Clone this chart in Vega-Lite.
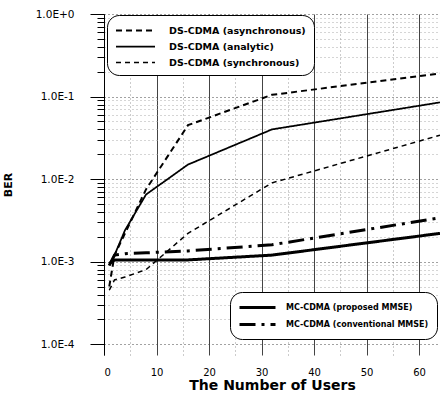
{
  "$schema": "https://vega.github.io/schema/vega-lite/v6.json",
  "width": 336,
  "height": 341,
  "autosize": {"type": "none"},
  "padding": {"left": 104, "top": 14, "right": 0, "bottom": 43},
  "background": "white",
  "config": {"view": {"stroke": null}, "font": "DejaVu Sans"},
  "data": {"values": [
    {"series": "DS-CDMA (asynchronous)", "users": 1, "ber": 0.0005},
    {"series": "DS-CDMA (asynchronous)", "users": 2, "ber": 0.0012},
    {"series": "DS-CDMA (asynchronous)", "users": 4, "ber": 0.0022},
    {"series": "DS-CDMA (asynchronous)", "users": 8, "ber": 0.0075},
    {"series": "DS-CDMA (asynchronous)", "users": 16, "ber": 0.045},
    {"series": "DS-CDMA (asynchronous)", "users": 32, "ber": 0.105},
    {"series": "DS-CDMA (asynchronous)", "users": 64, "ber": 0.19},
    {"series": "DS-CDMA (analytic)", "users": 1, "ber": 0.0009},
    {"series": "DS-CDMA (analytic)", "users": 2, "ber": 0.0012},
    {"series": "DS-CDMA (analytic)", "users": 4, "ber": 0.0024},
    {"series": "DS-CDMA (analytic)", "users": 8, "ber": 0.0065},
    {"series": "DS-CDMA (analytic)", "users": 16, "ber": 0.015},
    {"series": "DS-CDMA (analytic)", "users": 32, "ber": 0.04},
    {"series": "DS-CDMA (analytic)", "users": 64, "ber": 0.085},
    {"series": "DS-CDMA (synchronous)", "users": 1, "ber": 0.00045},
    {"series": "DS-CDMA (synchronous)", "users": 2, "ber": 0.0006},
    {"series": "DS-CDMA (synchronous)", "users": 4, "ber": 0.00065},
    {"series": "DS-CDMA (synchronous)", "users": 8, "ber": 0.0008},
    {"series": "DS-CDMA (synchronous)", "users": 16, "ber": 0.0022},
    {"series": "DS-CDMA (synchronous)", "users": 32, "ber": 0.009},
    {"series": "DS-CDMA (synchronous)", "users": 64, "ber": 0.034},
    {"series": "MC-CDMA (proposed MMSE)", "users": 1, "ber": 0.00095},
    {"series": "MC-CDMA (proposed MMSE)", "users": 2, "ber": 0.00105},
    {"series": "MC-CDMA (proposed MMSE)", "users": 4, "ber": 0.00105},
    {"series": "MC-CDMA (proposed MMSE)", "users": 8, "ber": 0.00105},
    {"series": "MC-CDMA (proposed MMSE)", "users": 16, "ber": 0.00105},
    {"series": "MC-CDMA (proposed MMSE)", "users": 32, "ber": 0.0012},
    {"series": "MC-CDMA (proposed MMSE)", "users": 64, "ber": 0.0022},
    {"series": "MC-CDMA (conventional MMSE)", "users": 1, "ber": 0.0009},
    {"series": "MC-CDMA (conventional MMSE)", "users": 2, "ber": 0.0012},
    {"series": "MC-CDMA (conventional MMSE)", "users": 4, "ber": 0.00125},
    {"series": "MC-CDMA (conventional MMSE)", "users": 8, "ber": 0.00128},
    {"series": "MC-CDMA (conventional MMSE)", "users": 16, "ber": 0.00135},
    {"series": "MC-CDMA (conventional MMSE)", "users": 32, "ber": 0.0016},
    {"series": "MC-CDMA (conventional MMSE)", "users": 64, "ber": 0.0034}
  ]},
  "encoding": {
    "x": {
      "field": "users", "type": "quantitative",
      "scale": {"domain": [0, 64], "nice": false, "zero": false},
      "axis": {
        "values": [0, 5, 10, 15, 20, 25, 30, 35, 40, 45, 50, 55, 60],
        "labelExpr": "datum.value % 10 === 0 ? datum.label : ''",
        "grid": true,
        "gridColor": {"condition": {"test": "datum.value % 10 === 0", "value": "#444"}, "value": "#999"},
        "gridDash": {"condition": {"test": "datum.value % 10 === 0", "value": []}, "value": [1, 3]},
        "domain": false, "ticks": false,
        "labelFontSize": 10, "labelColor": "black", "labelPadding": 12,
        "title": "The Number of Users", "titleFontSize": 14, "titleFontWeight": "bold",
        "titleColor": "black", "titlePadding": 1
      }
    },
    "y": {
      "field": "ber", "type": "quantitative",
      "scale": {"type": "log", "domain": [0.000074, 1], "nice": false},
      "axis": {
        "values": [0.0001, 0.0002, 0.0003, 0.0004, 0.0005, 0.0006, 0.0007, 0.0008, 0.0009,
                   0.001, 0.002, 0.003, 0.004, 0.005, 0.006, 0.007, 0.008, 0.009,
                   0.01, 0.02, 0.03, 0.04, 0.05, 0.06, 0.07, 0.08, 0.09,
                   0.1, 0.2, 0.3, 0.4, 0.5, 0.6, 0.7, 0.8, 0.9, 1],
        "labelExpr": "abs(log(datum.value)/LN10 - round(log(datum.value)/LN10)) < 0.001 ? ('1.0E' + (datum.value >= 1 ? '+0' : round(log(datum.value)/LN10))) : ''",
        "grid": true,
        "gridColor": {"condition": {"test": "abs(log(datum.value)/LN10 - round(log(datum.value)/LN10)) < 0.001", "value": "#444"}, "value": "#aaa"},
        "gridDash": [1, 3],
        "domain": true, "domainColor": "black",
        "ticks": true, "tickColor": "black",
        "tickSize": {"condition": {"test": "abs(log(datum.value)/LN10 - round(log(datum.value)/LN10)) < 0.001", "value": 14}, "value": 7},
        "labelFontSize": 10.5, "labelColor": "black", "labelPadding": 16,
        "title": "BER", "titleFontSize": 11, "titleFontWeight": "bold", "titleColor": "black",
        "titlePadding": 22
      }
    },
    "color": {"value": "black"}
  },
  "layer": [
    {
      "transform": [{"filter": "indexof(datum.series, 'DS') === 0"}],
      "mark": {"type": "line", "color": "black"},
      "encoding": {
        "strokeDash": {
          "field": "series", "type": "nominal",
          "scale": {"domain": ["DS-CDMA (asynchronous)", "DS-CDMA (analytic)", "DS-CDMA (synchronous)"], "range": [[6, 4], [1, 0], [5, 4]]},
          "legend": {
            "orient": "none", "legendX": 3, "legendY": 1, "title": null,
            "symbolType": "M-1,0H5", "symbolSize": 169, "symbolStrokeColor": "black",
            "labelFontSize": 9.5, "labelFontWeight": "bold", "labelColor": "black", "labelOffset": 39,
            "strokeColor": "black", "cornerRadius": 12, "fillColor": "white", "padding": 8, "rowPadding": 4
          }
        },
        "strokeWidth": {
          "field": "series", "type": "nominal",
          "scale": {"domain": ["DS-CDMA (asynchronous)", "DS-CDMA (analytic)", "DS-CDMA (synchronous)"], "range": [2, 1.5, 1]},
          "legend": {
            "orient": "none", "legendX": 3, "legendY": 1, "title": null,
            "symbolType": "M-1,0H5", "symbolSize": 169, "symbolStrokeColor": "black",
            "labelFontSize": 9.5, "labelFontWeight": "bold", "labelColor": "black", "labelOffset": 39,
            "strokeColor": "black", "cornerRadius": 12, "fillColor": "white", "padding": 8, "rowPadding": 4
          }
        }
      }
    },
    {
      "transform": [{"filter": "indexof(datum.series, 'MC') === 0"}],
      "mark": {"type": "line", "color": "black"},
      "encoding": {
        "strokeDash": {
          "field": "series", "type": "nominal",
          "scale": {"domain": ["MC-CDMA (proposed MMSE)", "MC-CDMA (conventional MMSE)"], "range": [[1, 0], [16, 6, 3, 6]]},
          "legend": {
            "orient": "none", "legendX": 126, "legendY": 278, "title": null,
            "symbolType": "M-1,0H5", "symbolSize": 144, "symbolStrokeColor": "black",
            "labelFontSize": 8, "labelFontWeight": "bold", "labelColor": "black", "labelOffset": 33,
            "strokeColor": "black", "cornerRadius": 12, "fillColor": "white", "padding": 8, "rowPadding": 3
          }
        },
        "strokeWidth": {
          "field": "series", "type": "nominal",
          "scale": {"domain": ["MC-CDMA (proposed MMSE)", "MC-CDMA (conventional MMSE)"], "range": [3, 3]},
          "legend": {
            "orient": "none", "legendX": 126, "legendY": 278, "title": null,
            "symbolType": "M-1,0H5", "symbolSize": 144, "symbolStrokeColor": "black",
            "labelFontSize": 8, "labelFontWeight": "bold", "labelColor": "black", "labelOffset": 33,
            "strokeColor": "black", "cornerRadius": 12, "fillColor": "white", "padding": 8, "rowPadding": 3
          }
        }
      }
    }
  ],
  "resolve": {
    "scale": {"strokeDash": "independent", "strokeWidth": "independent"},
    "legend": {"strokeDash": "independent", "strokeWidth": "independent"}
  }
}
